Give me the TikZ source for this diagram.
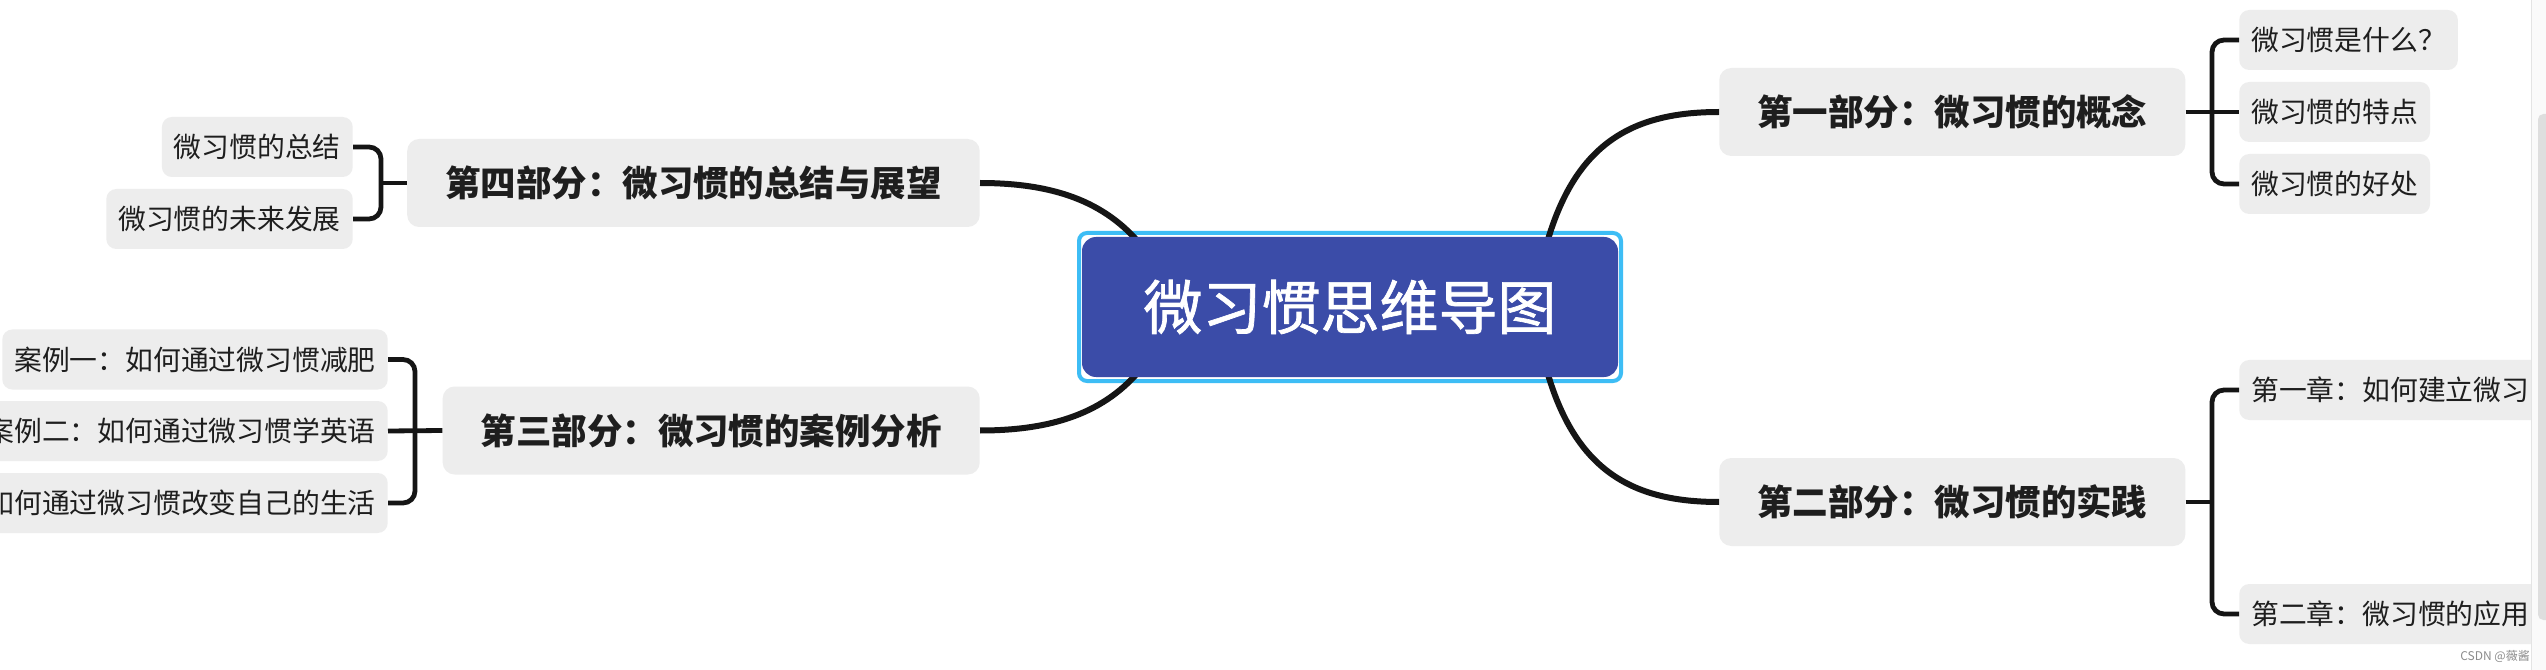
\documentclass[tikz,border=0pt]{standalone}
\usepackage{fontspec}
\setmainfont{Noto Sans CJK SC}
\newfontfamily\midfont[FakeBold=1.2]{Noto Sans CJK SC}
\definecolor{cblue}{HTML}{3B4CA8}
\definecolor{cring}{HTML}{3DBDF5}
\definecolor{cbox}{HTML}{EDEDED}
\definecolor{cline}{HTML}{151515}
\definecolor{ctext}{HTML}{1E1E1E}
\definecolor{cpanel}{HTML}{FAFAFA}
\definecolor{cpline}{HTML}{E4E4E4}
\definecolor{cthumb}{HTML}{DEDEDE}
\tikzset{
  topic/.style={fill=cbox, rounded corners=9pt, inner xsep=28.5pt, inner ysep=0pt,
    minimum height=66pt, text=ctext, font=\bfseries\fontsize{26.6pt}{30pt}\selectfont},
  sub/.style={fill=cbox, rounded corners=7.5pt, inner xsep=9pt, inner ysep=0pt,
    minimum height=45pt, text=ctext, font=\fontsize{20.85pt}{24pt}\selectfont},
  curve/.style={draw=cline, line width=4.5pt},
  brk/.style={draw=cline, line width=3.6pt, rounded corners=9pt},
}
\begin{document}
\begin{tikzpicture}[x=0.75pt, y=-0.75pt]
\useasboundingbox (0,0) rectangle (2546,670);
\fill[white] (0,0) rectangle (2546,670);

% level-1 topics
\node[topic, anchor=west] (n1) at (1719,112) {第一部分：微习惯的概念};
\node[topic, anchor=west] (n2) at (1719,502) {第二部分：微习惯的实践};
\node[topic, anchor=east] (n4) at (980,183) {第四部分：微习惯的总结与展望};
\node[topic, anchor=east] (n3) at (980,430.5) {第三部分：微习惯的案例分析};

% sub topics right
\node[sub, anchor=west] (sa) at (2239,40) {微习惯是什么？};
\node[sub, anchor=west] (sb) at (2239,112) {微习惯的特点};
\node[sub, anchor=west] (sc) at (2239,184) {微习惯的好处};
\node[sub, anchor=west] (sd) at (2239,390) {第一章：如何建立微习};
\node[sub, anchor=west] (se) at (2239,614) {第二章：微习惯的应用};

% sub topics left
\node[sub, anchor=east] (la) at (353,147) {微习惯的总结};
\node[sub, anchor=east] (lb) at (353,219) {微习惯的未来发展};
\node[sub, anchor=east] (ma) at (388,359.5) {案例一：如何通过微习惯减肥};
\node[sub, anchor=east] (mb) at (388,431) {案例二：如何通过微习惯学英语};
\node[sub, anchor=east] (mc) at (388,503) {案例三：如何通过微习惯改变自己的生活};

% brackets
\draw[brk] (n1.east) -- (sb.west);
\draw[brk] (sa.west) -- ++(-27,0) |- (sc.west);
\draw[brk] (n2.east) -- ++(26.5,0);
\draw[brk] (sd.west) -- ++(-27,0) |- (se.west);
\draw[brk] (n4.west) -- ++(-27,0);
\draw[brk] (la.east) -- ++(28,0) |- (lb.east);
\draw[brk] (mb.east) -- (n3.west);
\draw[brk] (ma.east) -- ++(27,0) |- (mc.east);

% selection ring of the root
\node[draw=cring, line width=3pt, rounded corners=6pt, minimum width=406.5pt,
  minimum height=111pt, inner sep=0pt] (ring) at (1350,307) {};

% main curves
\coordinate (c1) at (1545,250);
\coordinate (c2) at (1545,364);
\coordinate (c4) at (1145,250);
\coordinate (c3) at (1145,364);
\draw[curve] (c1) .. controls (1573,145) and (1630,112) .. (n1.west);
\draw[curve] (c2) .. controls (1573,469) and (1630,502) .. (n2.west);
\draw[curve] (n4.east) .. controls (1060,183) and (1110,205) .. (c4);
\draw[curve] (n3.east) .. controls (1060,430.5) and (1110,409) .. (c3);

% root
\node[fill=cblue, rounded corners=10.5pt, minimum width=402pt, minimum height=105pt,
  inner sep=0pt, text=white, font=\midfont\fontsize{44.25pt}{50pt}\selectfont] (root) at (1350,307) {微习惯思维导图};

% scrollbar panel
\fill[cpanel] (2531,0) rectangle (2546,670);
\draw[cpline, line width=0.75pt] (2531,0) -- (2531,670);
\fill[cthumb, rounded corners=4pt] (2538,114) rectangle (2552,620);

% watermark
\node[anchor=east, inner sep=0pt, text=black!45, font=\fontsize{9pt}{10pt}\selectfont] (wm) at (2530,656) {CSDN @薇酱};
\end{tikzpicture}
\end{document}
